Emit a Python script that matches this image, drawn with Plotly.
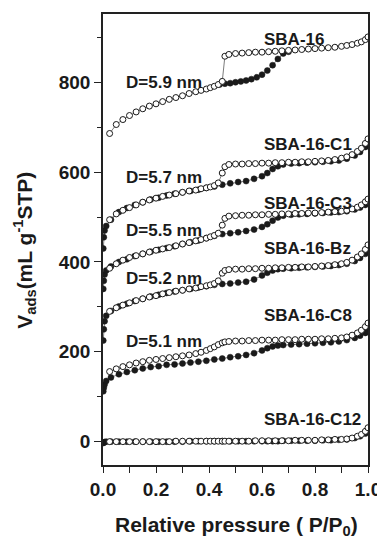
import plotly.graph_objects as go

# ---------------- data ----------------
# relative pressure grid of the open-circle (desorption) branches
x_open = [0.025, 0.05, 0.075, 0.10, 0.125, 0.15, 0.175, 0.20, 0.225, 0.25,
          0.275, 0.30, 0.325, 0.35, 0.37, 0.39, 0.405, 0.42, 0.435, 0.45,
          0.46, 0.475, 0.50, 0.525, 0.55, 0.575, 0.60, 0.625, 0.65, 0.675,
          0.70, 0.725, 0.75, 0.775, 0.80, 0.825, 0.85, 0.875, 0.90, 0.92,
          0.94, 0.96, 0.975, 0.99, 1.0]
# relative pressure grid of the filled-circle (adsorption) branches
x_fill = [0.001, 0.003, 0.006, 0.012, 0.03, 0.06, 0.09, 0.12, 0.15, 0.18,
          0.21, 0.24, 0.27, 0.30, 0.33, 0.36, 0.39, 0.42, 0.45, 0.48,
          0.51, 0.54, 0.57, 0.60, 0.62, 0.64, 0.66, 0.68, 0.71, 0.74,
          0.77, 0.80, 0.83, 0.86, 0.89, 0.92, 0.95, 0.97, 0.99, 1.0]
x_fill_sba16 = [0.44, 0.46, 0.48, 0.50, 0.52, 0.54, 0.56, 0.58, 0.60, 0.62,
                0.64, 0.66, 0.68, 0.70]

sba16_open = [686, 706, 717, 726, 734, 741, 747, 752, 757, 762,
              766, 770, 775, 779, 782, 785, 788, 791, 795, 802,
              858, 862, 864, 865, 866, 867, 867, 868, 869, 870,
              871, 872, 873, 874, 875, 876, 877, 878, 880, 882,
              884, 887, 890, 895, 901]
sba16_fill = [795, 797, 798, 800, 802, 804, 807, 811, 817, 826,
              838, 852, 864, 868]

c1_open = [494, 507, 515, 521, 527, 533, 538, 542, 546, 549,
           552, 555, 558, 560, 563, 565, 567, 570, 576, 598,
           612, 617, 618, 618, 619, 619, 620, 620, 621, 621,
           622, 622, 623, 623, 624, 625, 626, 628, 631, 634,
           639, 646, 653, 664, 674]
c1_fill = [430, 455, 470, 480, 494, 511, 520, 527, 533, 539,
           543, 548, 552, 555, 558, 561, 565, 568, 572, 575,
           578, 580, 585, 591, 598, 607, 613, 617, 619, 620,
           621, 622, 623, 624, 626, 630, 637, 645, 656, 664]

c3_open = [386, 396, 404, 410, 414, 418, 422, 426, 429, 432,
           436, 440, 443, 447, 450, 453, 456, 459, 464, 482,
           497, 502, 503, 504, 504, 505, 505, 506, 506, 507,
           507, 508, 508, 509, 509, 510, 511, 512, 513, 515,
           518, 522, 527, 534, 540]
c3_fill = [340, 358, 372, 381, 390, 400, 406, 413, 418, 423,
           427, 431, 435, 440, 444, 448, 453, 458, 462, 464,
           466, 469, 472, 478, 484, 492, 499, 503, 505, 506,
           507, 508, 509, 510, 511, 513, 517, 521, 527, 531]

bz_open = [290, 298, 304, 309, 314, 318, 322, 325, 329, 332,
           335, 337, 340, 342, 345, 347, 349, 352, 358, 375,
           381, 383, 384, 384, 385, 385, 386, 386, 387, 387,
           388, 388, 389, 389, 390, 391, 392, 394, 396, 399,
           404, 411, 418, 428, 438]
bz_fill = [225, 250, 268, 280, 291, 301, 307, 313, 318, 323,
           327, 331, 334, 337, 340, 343, 346, 349, 351, 352,
           354, 356, 361, 370, 376, 381, 384, 385, 386, 387,
           388, 389, 390, 391, 393, 396, 402, 409, 418, 424]

c8_open = [156, 162, 167, 171, 175, 178, 181, 183, 185, 187,
           189, 191, 193, 196, 199, 203, 207, 211, 216, 220,
           222, 223, 224, 224, 225, 225, 226, 226, 226, 227,
           227, 227, 228, 228, 228, 229, 229, 230, 231, 233,
           237, 242, 248, 256, 264]
c8_fill = [112, 120, 127, 135, 143, 150, 155, 159, 163, 166,
           168, 171, 172, 174, 176, 178, 180, 183, 185, 188,
           190, 193, 197, 203, 208, 212, 214, 215, 216, 217,
           218, 219, 220, 221, 223, 226, 231, 236, 242, 246]

c12_open = [0, 0, 0, 0, 0, 0, 0, 0, 0, 0,
            1, 1, 1, 1, 1, 1, 1, 1, 1, 1,
            1, 1, 1, 1, 1, 2, 2, 2, 2, 2,
            2, 3, 3, 3, 3, 4, 4, 5, 5, 6,
            8, 12, 16, 23, 31]
c12_fill = [-3, -2, -1, 0, 0, 0, 0, 0, 0, 0,
            0, 0, 0, 0, 1, 1, 1, 1, 1, 1,
            1, 1, 1, 1, 1, 1, 1, 2, 2, 2,
            2, 2, 3, 3, 4, 5, 8, 12, 18, 24]

sample_names = ["SBA-16", "SBA-16-C1", "SBA-16-C3", "SBA-16-Bz", "SBA-16-C8", "SBA-16-C12"]
pore_labels = ["D=5.9 nm", "D=5.7 nm", "D=5.5 nm", "D=5.2 nm", "D=5.1 nm"]
x_ticks = [0.0, 0.2, 0.4, 0.6, 0.8, 1.0]
y_ticks = [0, 200, 400, 600, 800]

# ---------------- figure ----------------
FONT = "Liberation Sans, Arial, Helvetica, sans-serif"
INK = "#1a1a1a"

fig = go.Figure()
series = [
    (x_fill_sba16, sba16_fill, sba16_open),
    (x_fill, c1_fill, c1_open),
    (x_fill, c3_fill, c3_open),
    (x_fill, bz_fill, bz_open),
    (x_fill, c8_fill, c8_open),
    (x_fill, c12_fill, c12_open),
]
for xf, yf, yo in series:
    fig.add_trace(go.Scatter(
        x=xf, y=yf, mode="lines+markers",
        line=dict(color="#444444", width=0.7),
        marker=dict(symbol="circle", size=6, color=INK,
                    line=dict(color=INK, width=0.5)),
        hoverinfo="skip"))
    fig.add_trace(go.Scatter(
        x=x_open, y=yo, mode="lines+markers",
        line=dict(color="#444444", width=0.7),
        marker=dict(symbol="circle", size=6, color="white",
                    line=dict(color=INK, width=1)),
        hoverinfo="skip"))

# sample labels (right) and pore-size labels (left)
name_pos = [(0.72, 896), (0.772, 662), (0.774, 530), (0.772, 430), (0.772, 280), (0.79, 49)]
for name, (xx, yy) in zip(sample_names, name_pos):
    fig.add_annotation(x=xx, y=yy, text="<b>%s</b>" % name, showarrow=False,
                       xanchor="center", yanchor="middle",
                       font=dict(family=FONT, size=17, color=INK))
pore_pos = [(0.23, 799), (0.23, 587), (0.23, 471), (0.229, 363), (0.23, 223)]
for lab, (xx, yy) in zip(pore_labels, pore_pos):
    fig.add_annotation(x=xx, y=yy, text="<b>%s</b>" % lab, showarrow=False,
                       xanchor="center", yanchor="middle",
                       font=dict(family=FONT, size=17, color=INK))

# axis titles
fig.add_annotation(xref="paper", yref="paper", x=0.504, y=-0.136,
                   text="<b>Relative pressure ( P/P<sub>0</sub>)</b>",
                   showarrow=False, xanchor="center", yanchor="middle",
                   font=dict(family=FONT, size=21, color=INK))
fig.add_annotation(xref="paper", yref="paper", x=-0.295, y=0.477,
                   text="<b>V<sub>ads</sub>(mL g<sup>-1</sup>STP)</b>",
                   showarrow=False, xanchor="center", yanchor="middle",
                   textangle=-90,
                   font=dict(family=FONT, size=21, color=INK))

axis_common = dict(showline=True, mirror=True, linecolor="#222222", linewidth=1.6,
                   showgrid=False, zeroline=False, ticks="outside",
                   tickcolor="#222222", tickwidth=1.3,
                   tickfont=dict(family=FONT, size=19, color=INK, weight="bold"))

# The page body keeps the browser's default 8 px margin, so the figure is
# drawn 8 px in from the top-left corner; size and margins compensate.
fig.update_layout(
    width=377, height=533,
    margin=dict(l=95, r=14, t=4, b=76),
    paper_bgcolor="white", plot_bgcolor="white",
    showlegend=False,
    xaxis=dict(range=[0, 1], tickvals=x_ticks, ticktext=["%.1f" % v for v in x_ticks],
               ticklen=6,
               minor=dict(dtick=0.1, ticks="outside", ticklen=6, tickwidth=1.3,
                          tickcolor="#222222"),
               **axis_common),
    yaxis=dict(range=[-52, 952], tickvals=y_ticks, ticktext=[str(v) for v in y_ticks],
               ticklen=7,
               minor=dict(dtick=100, ticks="outside", ticklen=4, tickwidth=1.3,
                          tickcolor="#222222"),
               **axis_common),
)

fig.write_html("out.html")
